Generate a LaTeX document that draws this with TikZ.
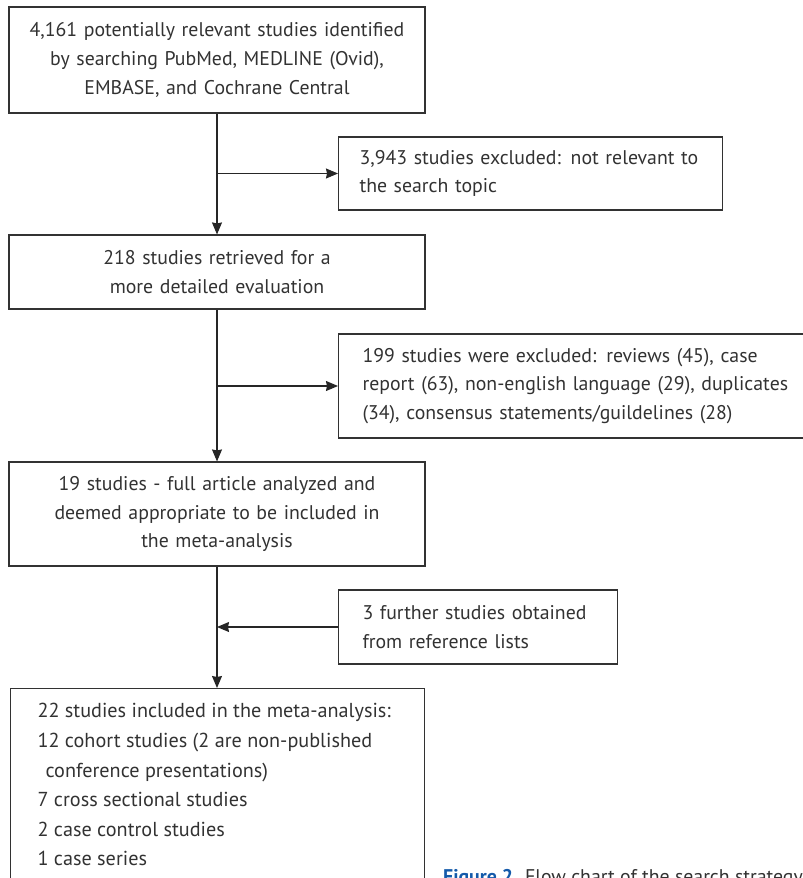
\documentclass[tikz,border=0pt]{standalone}
\usepackage{fontspec}
\setmainfont{PT Sans}
\usetikzlibrary{arrows.meta}
\definecolor{figblue}{RGB}{20,90,170}
\definecolor{inkgray}{RGB}{50,50,50}

\begin{document}
\begin{tikzpicture}[x=1pt,y=-1pt,
  font=\fontsize{19.8}{28.6}\selectfont, text=inkgray,
  mainbox/.style={draw=inkgray, line width=1.1pt, text width=#1, align=center, inner sep=0pt},
  sidebox/.style={draw=inkgray, line width=1.1pt, text width=#1, align=left, inner xsep=24pt, inner ysep=0pt, anchor=west},
  flow/.style={draw=black!85, line width=1.1pt, -{Stealth[length=12pt,width=10pt,inset=1pt]}}]
\clip (0,0) rectangle (803,878);
% main column
\node [mainbox=416pt, minimum height=106pt] (found) at (217,60)
  {4,161 potentially relevant studies identified\\ by searching PubMed, MEDLINE (Ovid),\\ EMBASE, and Cochrane Central};
\node [mainbox=416pt, minimum height=74pt] (retrieved) at (217,272)
  {218 studies retrieved for a\\ more detailed evaluation};
\node [mainbox=416pt, minimum height=104pt] (analyzed) at (217,514)
  {19 studies - full article analyzed and\\ deemed appropriate to be included in\\ the meta-analysis};
\node [draw=inkgray, line width=1.1pt, anchor=north west, align=left,
  inner xsep=27pt, inner ysep=15pt] (included) at (10,688)
  {\begin{minipage}[t][214pt][t]{360pt}\fontsize{20.2}{29.6}\selectfont
   22 studies included in the meta-analysis:\\
   12 cohort studies (2 are non-published\\
   \hspace*{8pt}conference presentations)\\
   7 cross sectional studies\\
   2 case control studies\\
   1 case series\end{minipage}};
% side boxes
\node [sidebox=342pt, inner xsep=21pt, minimum height=73pt] (irrelevant) at (338,173.5)
  {3,943 studies excluded: not relevant to\\ the search topic};
\node [sidebox=442pt, minimum height=104pt] (excluded) at (338,386)
  {199 studies were excluded: reviews (45), case\\ report (63), non-english language (29), duplicates\\ (34), consensus statements/guildelines (28)};
\node [sidebox=231pt, minimum height=74pt] (further) at (338,627)
  {3 further studies obtained\\ from reference lists};
% connectors
\draw [flow] (found) -- (retrieved);
\draw [flow] (found.south |- irrelevant.west) -- (irrelevant.west);
\draw [flow] (retrieved) -- (analyzed);
\draw [flow] (retrieved.south |- excluded.west) -- (excluded.west);
\draw [flow] (analyzed.south) -- (analyzed.south |- included.north);
\draw [flow] (further.west) -- (analyzed.south |- further.west);
% caption
\node [anchor=base west, inner sep=0pt] (caption) at (443,883)
  {\textcolor{figblue}{\bfseries Figure 2.} Flow chart of the search strategy};
\end{tikzpicture}
\end{document}
